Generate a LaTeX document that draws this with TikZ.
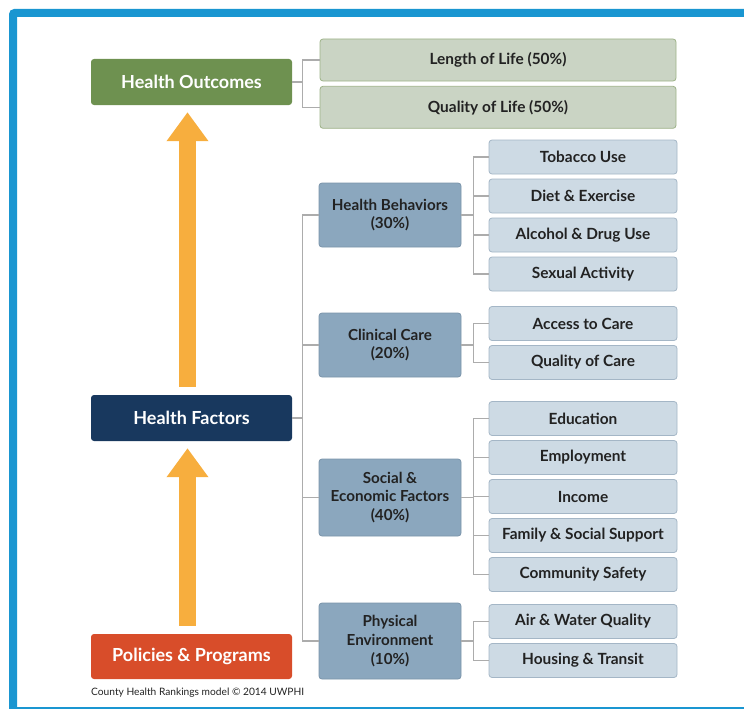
\documentclass[tikz,border=0pt]{standalone}
\usepackage{fontspec}
\setmainfont{Lato}
\usepackage{tikz}
\usetikzlibrary{arrows.meta,positioning}
\definecolor{frameblue}{RGB}{26,150,209}
\definecolor{outgreen}{RGB}{110,145,80}
\definecolor{factnavy}{RGB}{24,56,94}
\definecolor{polred}{RGB}{216,77,42}
\definecolor{arrorange}{RGB}{247,174,62}
\definecolor{midblue}{RGB}{139,167,190}
\definecolor{midedge}{RGB}{122,148,170}
\definecolor{leafblue}{RGB}{205,218,228}
\definecolor{leafedge}{RGB}{164,182,198}
\definecolor{leafgreen}{RGB}{202,212,196}
\definecolor{leafgedge}{RGB}{157,178,136}
\definecolor{inktext}{RGB}{34,34,34}
\tikzset{font=\bfseries}
\tikzset{topbox/.style={rounded corners=3pt, minimum width=201pt, minimum height=46pt,
    text=white, inner sep=0pt, font=\bfseries\fontsize{18}{21}\selectfont}}
\tikzset{midbox/.style={draw=midedge, fill=midblue, rounded corners=3pt, line width=0.8pt,
    minimum width=142pt, align=center, inner sep=0pt, text=inktext,
    font=\bfseries\fontsize{15.2}{18.8}\selectfont}}
\tikzset{leafbox/.style={draw=leafedge, fill=leafblue, rounded corners=3pt, line width=0.8pt,
    minimum width=188pt, minimum height=34pt, inner sep=0pt, text=inktext,
    font=\bfseries\fontsize{15.4}{18}\selectfont}}
\tikzset{outleaf/.style={leafbox, draw=leafgedge, fill=leafgreen, minimum width=356pt,
    minimum height=42pt}}
\tikzset{link/.style={draw=gray!65, line width=1.2pt}}
\tikzset{bigarrow/.style={draw=arrorange, line width=17pt,
    -{Triangle[width=40pt,length=29pt]}}}

\begin{document}
\begin{tikzpicture}[x=1pt,y=-1pt]
\useasboundingbox (0,0) rectangle (744,709);
% frame
\fill[frameblue] (9,709) -- (9,14) arc[start angle=180,end angle=270,radius=5] -- (744,9)
  -- (744,17) -- (17,17) -- (17,709) -- cycle;
\fill[frameblue] (17,706.5) rectangle (744,709);

% left column
\node[topbox, fill=outgreen] (hout) at (191.5,82) {Health Outcomes};
\node[topbox, fill=factnavy] (hfac) at (191.5,418) {Health Factors};
\node[topbox, fill=polred, minimum height=45pt] (pol) at (191.5,656.5) {Policies \& Programs};
\node[anchor=west, inner sep=0pt, font=\fontsize{10.2}{12}\selectfont, text=inktext]
  (cap) at (91,693) {County Health Rankings model © 2014 UWPHI};

\draw[bigarrow, shorten <=8pt, shorten >=7pt] ([xshift=-4pt]pol.north) -- ([xshift=-4pt]hfac.south);
\draw[bigarrow, shorten <=8pt, shorten >=7pt] ([xshift=-4pt]hfac.north) -- ([xshift=-4pt]hout.south);

% outcomes
\node[outleaf] (len) at (498,60) {Length of Life (50\%)};
\node[outleaf, below=4.5pt of len] (qol) {Quality of Life (50\%)};

% factors
\node[midbox, minimum height=64pt] (hb) at (390,215) {Health Behaviors\\(30\%)};
\node[midbox, minimum height=64pt] (cc) at (390,345) {Clinical Care\\(20\%)};
\node[midbox, minimum height=77pt] (se) at (390,497.5) {Social \&\\Economic Factors\\(40\%)};
\node[midbox, minimum height=76pt] (pe) at (390,641) {Physical\\Environment\\(10\%)};

\node[leafbox] (tob) at (583,157) {Tobacco Use};
\node[leafbox, below=4.2pt of tob] (diet) {Diet \& Exercise};
\node[leafbox, below=4.2pt of diet] (alc) {Alcohol \& Drug Use};
\node[leafbox, below=4.2pt of alc] (sex) {Sexual Activity};

\node[leafbox] (acc) at (583,323.5) {Access to Care};
\node[leafbox, below=4.2pt of acc] (qoc) {Quality of Care};

\node[leafbox] (edu) at (583,418.5) {Education};
\node[leafbox, below=4.2pt of edu] (emp) {Employment};
\node[leafbox, below=4.2pt of emp] (inc) {Income};
\node[leafbox, below=4.2pt of inc] (fam) {Family \& Social Support};
\node[leafbox, below=4.2pt of fam] (com) {Community Safety};

\node[leafbox] (air) at (583,621.5) {Air \& Water Quality};
\node[leafbox, below=4.2pt of air] (hou) {Housing \& Transit};

% connectors
\draw[link] (hout.east) -- ++(10,0) coordinate (jo);
\foreach \c in {len,qol} \draw[link] (jo) |- (\c.west);
\draw[link] (hfac.east) -- ++(10,0) coordinate (jf);
\foreach \c in {hb,cc,se,pe} \draw[link] (jf) |- (\c.west);
\draw[link] (hb.east) -- ++(12,0) coordinate (jb);
\foreach \c in {tob,diet,alc,sex} \draw[link] (jb) |- (\c.west);
\draw[link] (cc.east) -- ++(12,0) coordinate (jc);
\foreach \c in {acc,qoc} \draw[link] (jc) |- (\c.west);
\draw[link] (se.east) -- ++(12,0) coordinate (js);
\foreach \c in {edu,emp,inc,fam,com} \draw[link] (js) |- (\c.west);
\draw[link] (pe.east) -- ++(12,0) coordinate (jp);
\foreach \c in {air,hou} \draw[link] (jp) |- (\c.west);
\end{tikzpicture}
\end{document}
